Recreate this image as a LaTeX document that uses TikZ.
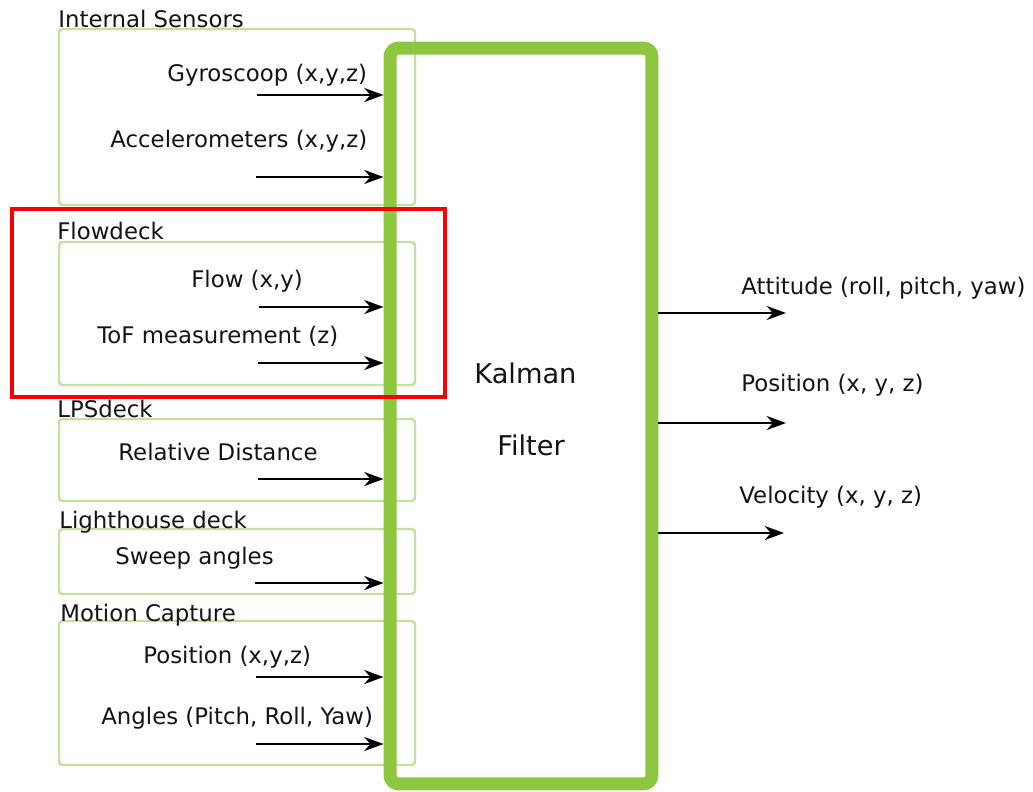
\documentclass[tikz,border=0pt]{standalone}
\usepackage{fontspec}
\setmainfont{DejaVu Sans}
\usetikzlibrary{arrows.meta}
\definecolor{kgreen}{RGB}{141,198,63}
\definecolor{lgreen}{RGB}{196,224,160}
\definecolor{hlred}{RGB}{250,0,0}
\definecolor{txt}{RGB}{20,20,20}
\tikzset{
  lbl/.style={anchor=base west, inner sep=0pt, text=txt, font=\fontsize{13}{15}\selectfont},
  klbl/.style={anchor=base west, inner sep=0pt, text=txt, font=\fontsize{15.5}{18}\selectfont},
  groupbox/.style={draw=lgreen, line width=1.4pt, rounded corners=2pt},
  conn/.style={draw=black, line width=1pt, -{Stealth[length=11pt,width=8pt,inset=3.5pt]}},
}
\begin{document}
\begin{tikzpicture}[x=0.02cm,y=-0.02cm]
\useasboundingbox (0,0) rectangle (1033,791);
% group boxes
\draw[groupbox] (59,29) rectangle (415,205);
\draw[groupbox] (59,242) rectangle (415,385);
\draw[groupbox] (59,419) rectangle (415,501);
\draw[groupbox] (59,529) rectangle (415,594);
\draw[groupbox] (59,621) rectangle (415,765);
% group titles
\node[lbl] (tInt) at (58,28) {Internal Sensors};
\node[lbl] (tFlow) at (57,239) {Flowdeck};
\node[lbl] (tLPS) at (57,417) {LPSdeck};
\node[lbl] (tLH) at (59,528) {Lighthouse deck};
\node[lbl] (tMC) at (60,621) {Motion Capture};
% Kalman box
\node[draw=kgreen, line width=7.4pt, rounded corners=5pt, minimum width=5.24cm, minimum height=14.72cm, inner sep=0pt] (kal) at (521,416) {};
\node[klbl] (kal1) at (474,383) {Kalman};
\node[klbl] (kal2) at (497,455) {Filter};
% input labels
\node[lbl] (lGyro) at (167,81) {Gyroscoop (x,y,z)};
\node[lbl] (lAcc) at (110,147) {Accelerometers (x,y,z)};
\node[lbl] (lFlow) at (191,287) {Flow (x,y)};
\node[lbl] (lToF) at (97,343) {ToF measurement (z)};
\node[lbl] (lRel) at (118,460) {Relative Distance};
\node[lbl] (lSw) at (115,564) {Sweep angles};
\node[lbl] (lPos) at (143,663) {Position (x,y,z)};
\node[lbl] (lAng) at (101,724) {Angles (Pitch, Roll, Yaw)};
% input arrow starts
\coordinate (iGyro) at (257,95);
\coordinate (iAcc) at (256,177);
\coordinate (iFlow) at (259,307);
\coordinate (iToF) at (258,363);
\coordinate (iRel) at (258,479);
\coordinate (iSw) at (255,583);
\coordinate (iPos) at (256,677);
\coordinate (iAng) at (256,744);
\foreach \c in {iGyro,iAcc,iFlow,iToF,iRel,iSw,iPos,iAng}
  \draw[conn] (\c) -- (\c -| kal.west);
% outputs
\coordinate (oAtt) at (786,313);
\coordinate (oPos) at (786,423);
\coordinate (oVel) at (784,533);
\foreach \c in {oAtt,oPos,oVel}
  \draw[conn] (\c -| kal.east) -- (\c);
\node[lbl] (lAtt) at (741,294) {Attitude (roll, pitch, yaw)};
\node[lbl] (lOPos) at (741,391) {Position (x, y, z)};
\node[lbl] (lVel) at (739,503) {Velocity (x, y, z)};
% highlight
\draw[hlred, line width=2.6pt] (12,209) rectangle (445,397);
\end{tikzpicture}
\end{document}
